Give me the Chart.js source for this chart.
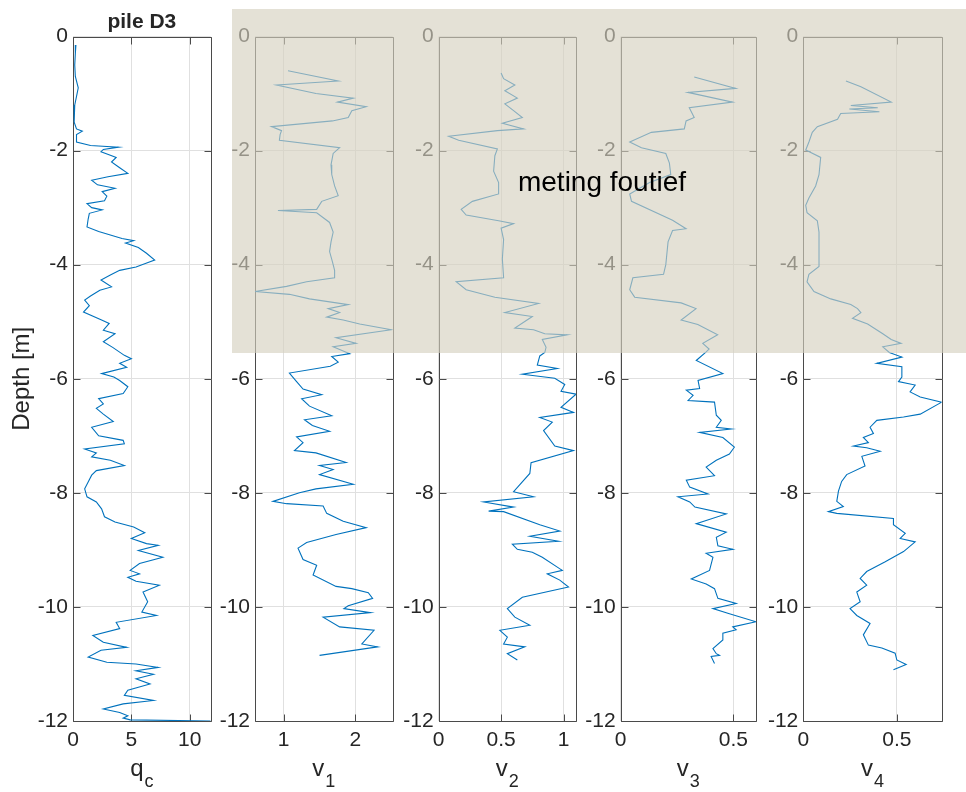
<!DOCTYPE html>
<html>
<head>
<meta charset="utf-8">
<title>pile D3</title>
<script src="https://cdn.jsdelivr.net/npm/chart.js@4/dist/chart.umd.min.js"></script>
<style>
  html, body { margin: 0; padding: 0; background: #ffffff; }
  #wrap { position: relative; width: 966px; height: 792px; }
  #wrap canvas { position: absolute; left: 0; top: 0; }
</style>
</head>
<body>
<div id="wrap">
  <canvas id="p0" width="966" height="792"></canvas>
  <canvas id="p1" width="966" height="792"></canvas>
  <canvas id="p2" width="966" height="792"></canvas>
  <canvas id="p3" width="966" height="792"></canvas>
  <canvas id="p4" width="966" height="792"></canvas>
</div>
<script>
// ---- data -------------------------------------------------------------
const depthTicks = [0, -2, -4, -6, -8, -10, -12];

// cone resistance
const qcDepth = [-0.15, -0.3, -0.5, -0.7, -0.9, -1.0, -1.2, -1.5, -1.62, -1.66, -1.72, -1.85, -1.91, -1.94, -1.98, -2.02, -2.08, -2.12, -2.2, -2.3, -2.4, -2.46, -2.52, -2.6, -2.66, -2.72, -2.8, -2.88, -2.93, -3.0, -3.04, -3.1, -3.2, -3.34, -3.42, -3.54, -3.58, -3.62, -3.7, -3.8, -3.92, -3.98, -4.04, -4.1, -4.18, -4.27, -4.39, -4.45, -4.55, -4.62, -4.72, -4.83, -4.97, -5.03, -5.15, -5.21, -5.35, -5.45, -5.59, -5.65, -5.73, -5.8, -5.91, -5.97, -6.03, -6.14, -6.26, -6.35, -6.44, -6.52, -6.62, -6.75, -6.85, -7.0, -7.08, -7.14, -7.23, -7.3, -7.37, -7.43, -7.52, -7.61, -7.69, -7.81, -7.93, -8.07, -8.16, -8.28, -8.42, -8.51, -8.6, -8.7, -8.8, -8.89, -8.92, -9.01, -9.13, -9.24, -9.36, -9.42, -9.48, -9.55, -9.62, -9.74, -9.91, -10.09, -10.15, -10.27, -10.38, -10.5, -10.62, -10.71, -10.76, -10.88, -10.97, -11.0, -11.06, -11.12, -11.18, -11.26, -11.35, -11.46, -11.55, -11.64, -11.7, -11.79, -11.85, -11.91, -11.95, -11.98, -12.0];
const qcValues = [0.25, 0.2, 0.15, 0.2, 0.45, 0.35, 0.15, 0.1, 0.3, 0.8, 0.3, 0.3, 1.5, 3.9, 2.6, 2.4, 3.2, 3.7, 3.3, 4.0, 4.7, 3.0, 1.6, 2.1, 3.6, 2.5, 2.9, 2.7, 1.2, 1.6, 2.5, 1.4, 1.3, 1.2, 2.2, 4.2, 5.2, 4.5, 5.6, 6.3, 7.0, 6.2, 5.4, 4.0, 3.2, 2.4, 3.3, 2.3, 1.5, 1.0, 1.4, 0.9, 2.45, 3.1, 2.6, 3.6, 2.6, 3.4, 4.4, 5.0, 4.0, 4.6, 2.45, 3.5, 4.0, 4.7, 4.3, 2.2, 2.6, 2.0, 2.6, 3.45, 1.6, 2.2, 4.3, 4.4, 1.0, 2.0, 1.6, 3.2, 4.4, 2.0, 1.6, 1.3, 1.0, 1.2, 2.0, 2.45, 2.7, 3.6, 5.2, 6.15, 5.0, 6.3, 7.3, 5.6, 7.7, 5.7, 4.9, 5.7, 4.7, 5.4, 7.4, 6.0, 6.4, 5.9, 7.15, 3.7, 4.0, 1.7, 2.6, 4.6, 2.4, 1.3, 2.9, 5.4, 7.3, 5.4, 6.9, 5.4, 6.6, 4.7, 4.4, 6.9, 4.3, 2.6, 4.0, 4.7, 4.3, 4.9, 11.8];
const qcTicks = [0, 5, 10];

const v1Depth = [-0.6, -0.78, -0.85, -1.0, -1.08, -1.15, -1.23, -1.3, -1.42, -1.48, -1.58, -1.65, -1.72, -1.82, -1.95, -2.05, -2.25, -2.42, -2.62, -2.79, -2.89, -3.03, -3.05, -3.09, -3.26, -3.43, -3.6, -3.77, -3.95, -4.1, -4.23, -4.3, -4.38, -4.47, -4.52, -4.6, -4.7, -4.77, -4.84, -4.92, -4.97, -5.04, -5.14, -5.28, -5.38, -5.44, -5.56, -5.61, -5.71, -5.78, -5.9, -6.05, -6.18, -6.28, -6.35, -6.48, -6.65, -6.72, -6.82, -6.92, -7.02, -7.12, -7.26, -7.3, -7.47, -7.52, -7.59, -7.68, -7.85, -7.93, -8.0, -8.15, -8.19, -8.23, -8.36, -8.5, -8.61, -8.73, -8.87, -8.97, -9.17, -9.27, -9.44, -9.64, -9.68, -9.75, -9.85, -9.98, -10.03, -10.1, -10.18, -10.35, -10.41, -10.65, -10.7, -10.85];
const v1Values = [1.06, 1.76, 0.9, 1.45, 1.97, 1.75, 2.15, 1.95, 1.9, 1.68, 0.83, 0.97, 0.95, 0.94, 1.78, 1.69, 1.66, 1.67, 1.71, 1.76, 1.53, 1.46, 0.92, 1.46, 1.64, 1.69, 1.66, 1.64, 1.68, 1.71, 1.71, 1.32, 1.04, 0.6, 1.08, 1.36, 1.9, 1.62, 1.78, 1.6, 1.83, 2.06, 2.5, 1.73, 2.01, 1.69, 1.92, 1.67, 1.76, 1.65, 1.08, 1.18, 1.27, 1.53, 1.25, 1.36, 1.67, 1.29, 1.4, 1.64, 1.18, 1.27, 1.15, 1.45, 1.87, 1.5, 1.69, 1.5, 1.97, 1.45, 1.22, 0.85, 1.04, 1.55, 1.6, 1.83, 2.15, 1.73, 1.32, 1.2, 1.27, 1.46, 1.41, 1.73, 1.95, 2.18, 2.24, 1.9, 1.84, 2.21, 1.55, 1.78, 2.26, 2.09, 2.31, 1.5];
const v1Ticks = [1, 2];

const v2Depth = [-0.64, -0.74, -0.85, -0.95, -1.08, -1.18, -1.3, -1.42, -1.52, -1.62, -1.65, -1.75, -1.82, -1.97, -2.09, -2.36, -2.56, -2.76, -2.89, -3.03, -3.13, -3.23, -3.28, -3.36, -3.56, -3.9, -4.23, -4.3, -4.44, -4.57, -4.68, -4.84, -4.91, -5.11, -5.14, -5.21, -5.23, -5.31, -5.45, -5.54, -5.6, -5.76, -5.82, -5.92, -5.99, -6.1, -6.22, -6.27, -6.5, -6.59, -6.68, -6.76, -6.91, -7.18, -7.26, -7.47, -7.66, -7.98, -8.07, -8.16, -8.25, -8.32, -8.33, -8.56, -8.67, -8.76, -8.85, -8.9, -8.99, -9.04, -9.13, -9.36, -9.42, -9.53, -9.65, -9.83, -10.03, -10.18, -10.32, -10.41, -10.53, -10.65, -10.7, -10.82, -10.93];
const v2Values = [0.5, 0.52, 0.61, 0.53, 0.63, 0.53, 0.6, 0.67, 0.51, 0.68, 0.47, 0.08, 0.16, 0.47, 0.45, 0.44, 0.48, 0.48, 0.27, 0.18, 0.22, 0.48, 0.6, 0.5, 0.52, 0.51, 0.52, 0.14, 0.22, 0.45, 0.8, 0.53, 0.75, 0.61, 0.76, 0.85, 1.03, 0.83, 0.86, 0.85, 0.81, 0.79, 0.95, 0.67, 0.93, 1.01, 0.98, 1.1, 0.98, 1.08, 0.81, 0.91, 0.84, 0.93, 1.08, 0.74, 0.73, 0.6, 0.76, 0.36, 0.6, 0.4, 0.52, 0.81, 0.97, 0.73, 0.96, 0.59, 0.63, 0.75, 0.83, 0.99, 0.87, 0.97, 1.04, 0.67, 0.55, 0.61, 0.73, 0.49, 0.55, 0.52, 0.69, 0.55, 0.63];
const v2Ticks = [0, 0.5, 1];

const v3Depth = [-0.71, -0.91, -0.98, -1.15, -1.25, -1.42, -1.48, -1.62, -1.68, -1.85, -1.95, -2.05, -2.22, -2.42, -2.56, -2.76, -2.89, -3.22, -3.37, -3.4, -3.6, -4.0, -4.17, -4.23, -4.44, -4.57, -4.67, -4.77, -4.97, -5.05, -5.23, -5.38, -5.48, -5.53, -5.68, -5.91, -6.03, -6.17, -6.2, -6.29, -6.38, -6.41, -6.64, -6.73, -6.85, -6.88, -6.94, -7.03, -7.2, -7.32, -7.43, -7.55, -7.7, -7.78, -7.9, -8.02, -8.07, -8.16, -8.25, -8.37, -8.54, -8.69, -8.78, -8.93, -8.99, -9.06, -9.13, -9.36, -9.51, -9.6, -9.68, -9.85, -9.94, -10.03, -10.12, -10.26, -10.35, -10.4, -10.46, -10.58, -10.73, -10.82, -10.85, -10.87, -10.99];
const v3Values = [0.326, 0.51, 0.298, 0.496, 0.304, 0.326, 0.29, 0.282, 0.136, 0.04, 0.092, 0.2, 0.216, 0.222, 0.128, 0.04, 0.048, 0.23, 0.29, 0.23, 0.21, 0.2, 0.19, 0.054, 0.04, 0.062, 0.268, 0.334, 0.268, 0.342, 0.43, 0.364, 0.392, 0.379, 0.335, 0.453, 0.343, 0.35, 0.291, 0.321, 0.299, 0.416, 0.424, 0.446, 0.424, 0.49, 0.35, 0.453, 0.504, 0.482, 0.424, 0.379, 0.416, 0.291, 0.306, 0.387, 0.254, 0.306, 0.329, 0.468, 0.335, 0.468, 0.424, 0.431, 0.497, 0.379, 0.409, 0.394, 0.313, 0.379, 0.416, 0.431, 0.512, 0.409, 0.482, 0.6, 0.497, 0.512, 0.453, 0.453, 0.409, 0.424, 0.438, 0.401, 0.416];
const v3Ticks = [0, 0.5];

const v4Depth = [-0.78, -0.88, -1.15, -1.21, -1.25, -1.27, -1.32, -1.35, -1.45, -1.58, -1.68, -1.85, -1.99, -2.12, -2.42, -2.62, -2.83, -2.96, -3.09, -3.23, -3.43, -4.03, -4.17, -4.3, -4.47, -4.6, -4.7, -4.77, -4.84, -4.94, -5.04, -5.21, -5.31, -5.38, -5.44, -5.54, -5.62, -5.73, -5.79, -5.97, -6.05, -6.11, -6.23, -6.32, -6.41, -6.62, -6.67, -6.73, -6.85, -6.96, -7.03, -7.12, -7.18, -7.21, -7.27, -7.36, -7.53, -7.68, -7.8, -7.97, -8.15, -8.24, -8.33, -8.36, -8.45, -8.56, -8.71, -8.8, -8.86, -9.03, -9.21, -9.38, -9.5, -9.62, -9.74, -9.91, -10.03, -10.15, -10.29, -10.49, -10.67, -10.72, -10.81, -10.93, -11.01, -11.1];
const v4Values = [0.228, 0.308, 0.47, 0.254, 0.398, 0.246, 0.407, 0.2, 0.183, 0.075, 0.048, 0.03, 0.013, 0.093, 0.084, 0.066, 0.03, 0.013, 0.02, 0.075, 0.084, 0.084, 0.03, 0.02, 0.057, 0.147, 0.254, 0.29, 0.308, 0.263, 0.344, 0.425, 0.47, 0.523, 0.425, 0.46, 0.527, 0.393, 0.527, 0.527, 0.509, 0.598, 0.571, 0.625, 0.74, 0.625, 0.536, 0.393, 0.357, 0.375, 0.321, 0.348, 0.268, 0.339, 0.411, 0.313, 0.33, 0.232, 0.205, 0.188, 0.179, 0.214, 0.134, 0.179, 0.482, 0.482, 0.545, 0.518, 0.598, 0.536, 0.438, 0.339, 0.304, 0.339, 0.286, 0.304, 0.25, 0.286, 0.357, 0.321, 0.348, 0.42, 0.491, 0.5, 0.55, 0.482];
const v4Ticks = [0, 0.5];

// depth below which the upper part of the v-profiles is greyed out
const faultyDepth = -5.55;

// ---- layout / style ---------------------------------------------------
const W = 966, H = 792;
const PLOT_TOP = 36.5, PLOT_BOTTOM = 721;
const Y_AXIS_W = 60, X_AXIS_H = 40;
const TICK_LEN = 7;
const FONT = '"Liberation Sans", Arial, Helvetica, sans-serif';
const TEXT_COLOR = '#262626';
const AXIS_COLOR = '#4a4a4a';
const GRID_COLOR = '#e0e0e0';
const LINE_COLOR = '#0072bd';

const panels = [
  { id: 'p0', depth: qcDepth, values: qcValues, ticks: qcTicks, min: 0, max: 11.8, left: 73, right: 210.7, label: 'q', sub: 'c', title: 'pile D3', yTitle: 'Depth [m]' },
  { id: 'p1', depth: v1Depth, values: v1Values, ticks: v1Ticks, min: 0.6, max: 2.52, left: 255, right: 392.7, label: 'v', sub: '1' },
  { id: 'p2', depth: v2Depth, values: v2Values, ticks: v2Ticks, min: 0, max: 1.1, left: 438.7, right: 576, label: 'v', sub: '2' },
  { id: 'p3', depth: v3Depth, values: v3Values, ticks: v3Ticks, min: 0, max: 0.6, left: 620.7, right: 756, label: 'v', sub: '3' },
  { id: 'p4', depth: v4Depth, values: v4Values, ticks: v4Ticks, min: 0, max: 0.74, left: 803.3, right: 941.7, label: 'v', sub: '4' }
];

// box around each axes with ticks pointing inwards on all four sides
const framePlugin = {
  id: 'frame',
  beforeDatasetsDraw(chart) {
    const { ctx, chartArea: a, scales: { x, y } } = chart;
    const L = Math.round(a.left) + 0.5, R = Math.round(a.right) + 0.5;
    const T = Math.round(a.top) + 0.5, B = Math.round(a.bottom) + 0.5;
    ctx.save();
    ctx.strokeStyle = AXIS_COLOR;
    ctx.lineWidth = 1;
    ctx.beginPath();
    x.ticks.forEach(t => {
      const px = Math.round(x.getPixelForValue(t.value)) + 0.5;
      ctx.moveTo(px, T); ctx.lineTo(px, T + TICK_LEN);
      ctx.moveTo(px, B); ctx.lineTo(px, B - TICK_LEN);
    });
    y.ticks.forEach(t => {
      const py = Math.round(y.getPixelForValue(t.value)) + 0.5;
      ctx.moveTo(L, py); ctx.lineTo(L + TICK_LEN, py);
      ctx.moveTo(R, py); ctx.lineTo(R - TICK_LEN, py);
    });
    ctx.rect(L, T, R - L, B - T);
    ctx.stroke();
    ctx.restore();
  }
};

// axis labels with subscripts, panel title and the depth label
const panelText = {
  id: 'panelText',
  afterDraw(chart, args, opts) {
    const { ctx, chartArea: a } = chart;
    const cx = (a.left + a.right) / 2;
    ctx.save();
    ctx.fillStyle = TEXT_COLOR;
    ctx.textBaseline = 'alphabetic';

    ctx.font = '24px ' + FONT;
    const mainW = ctx.measureText(opts.label).width;
    ctx.font = '18px ' + FONT;
    const subW = ctx.measureText(opts.sub).width;
    const x0 = cx - (mainW + subW + 1) / 2;
    ctx.textAlign = 'left';
    ctx.font = '24px ' + FONT;
    ctx.fillText(opts.label, x0, a.bottom + 55);
    ctx.font = '18px ' + FONT;
    ctx.fillText(opts.sub, x0 + mainW + 1, a.bottom + 66);

    if (opts.title) {
      ctx.font = 'bold 21px ' + FONT;
      ctx.textAlign = 'center';
      ctx.fillText(opts.title, cx, a.top - 9);
    }
    if (opts.yTitle) {
      ctx.font = '24px ' + FONT;
      ctx.textAlign = 'center';
      ctx.translate(a.left - 44, (a.top + a.bottom) / 2);
      ctx.rotate(-Math.PI / 2);
      ctx.fillText(opts.yTitle, 0, 0);
    }
    ctx.restore();
  }
};

// translucent box over the top part of the v-profiles
const faultyBox = {
  id: 'faultyBox',
  afterDraw(chart, args, opts) {
    const { ctx, scales: { y } } = chart;
    const bottom = Math.round(y.getPixelForValue(opts.depth));
    ctx.save();
    ctx.fillStyle = 'rgba(213, 208, 191, 0.64)';
    ctx.fillRect(opts.left, opts.top, W - opts.left, bottom - opts.top);
    ctx.fillStyle = '#000000';
    ctx.font = '28px ' + FONT;
    ctx.textAlign = 'center';
    ctx.textBaseline = 'middle';
    ctx.fillText(opts.text, opts.textX, opts.textY);
    ctx.restore();
  }
};

const tickFont = { family: FONT, size: 21 };
// plain number labels: 1 rather than 1.0
const plainLabel = v => String(v);

panels.forEach((p, i) => {
  const isLast = i === panels.length - 1;
  new Chart(document.getElementById(p.id), {
    type: 'scatter',
    data: {
      datasets: [{
        data: p.depth.map((d, k) => ({ x: p.values[k], y: d })),
        showLine: true,
        borderColor: LINE_COLOR,
        borderWidth: 1.1,
        pointRadius: 0,
        tension: 0
      }]
    },
    options: {
      responsive: false,
      animation: false,
      events: [],
      layout: {
        padding: {
          left: p.left - Y_AXIS_W,
          right: W - p.right,
          top: PLOT_TOP,
          bottom: H - PLOT_BOTTOM - X_AXIS_H
        }
      },
      plugins: {
        legend: { display: false },
        tooltip: { enabled: false },
        panelText: { label: p.label, sub: p.sub, title: p.title, yTitle: p.yTitle },
        faultyBox: { depth: faultyDepth, left: 232, top: 9, text: 'meting foutief', textX: 602, textY: 183 }
      },
      scales: {
        x: {
          type: 'linear',
          min: p.min,
          max: p.max,
          afterBuildTicks: s => { s.ticks = p.ticks.map(v => ({ value: v })); },
          afterFit: s => { s.height = X_AXIS_H; },
          grid: { color: GRID_COLOR, drawTicks: false },
          border: { display: false },
          ticks: { font: tickFont, color: TEXT_COLOR, padding: 7, maxRotation: 0, autoSkip: false, callback: plainLabel }
        },
        y: {
          type: 'linear',
          min: -12,
          max: 0,
          afterBuildTicks: s => { s.ticks = depthTicks.map(v => ({ value: v })); },
          afterFit: s => { s.width = Y_AXIS_W; },
          grid: { color: GRID_COLOR, drawTicks: false },
          border: { display: false },
          ticks: { font: tickFont, color: TEXT_COLOR, padding: 5, autoSkip: false, callback: plainLabel }
        }
      }
    },
    plugins: isLast ? [framePlugin, panelText, faultyBox] : [framePlugin, panelText]
  });
});
</script>
</body>
</html>
